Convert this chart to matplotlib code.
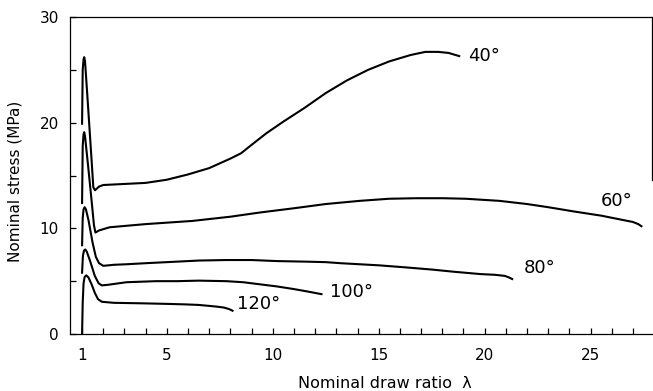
import matplotlib
matplotlib.use("Agg")
import matplotlib.pyplot as plt
from matplotlib.ticker import MultipleLocator


# draw ratio / nominal stress (MPa)
lam40 = [1.0, 1.03, 1.07, 1.1, 1.14, 1.3, 1.45, 1.53, 1.61, 1.8, 2.0, 3.0, 4.0,
         5.0, 6.0, 7.0, 8.0, 8.5, 9.0, 9.7, 10.5, 11.5, 12.5, 13.5, 14.5, 15.5,
         16.5, 17.2, 17.8, 18.3, 18.8]
s40 = [19.9, 25.0, 26.0, 26.2, 25.8, 21.0, 16.4, 13.9, 13.6, 13.95, 14.1, 14.2,
       14.3, 14.6, 15.1, 15.7, 16.6, 17.1, 17.9, 19.0, 20.1, 21.4, 22.8, 24.0,
       25.0, 25.8, 26.4, 26.7, 26.7, 26.6, 26.3]

lam60 = [1.0, 1.03, 1.07, 1.1, 1.14, 1.3, 1.45, 1.56, 1.63, 1.8, 2.3, 4.0, 6.2,
         8.0, 9.4, 11.0, 12.5, 14.1, 15.5, 16.8, 18.0, 19.1, 20.7, 22.0, 23.0,
         24.2, 25.5, 26.5, 27.0, 27.25, 27.4]
s60 = [12.4, 17.8, 18.9, 19.1, 18.7, 15.6, 12.6, 10.3, 9.6, 9.8, 10.1, 10.4,
       10.7, 11.1, 11.5, 11.9, 12.3, 12.6, 12.8, 12.85, 12.85, 12.8, 12.6, 12.3,
       12.0, 11.6, 11.2, 10.8, 10.6, 10.4, 10.2]

lam80 = [1.0, 1.03, 1.07, 1.12, 1.18, 1.3, 1.5, 1.65, 1.8, 2.0, 2.5, 3.1, 4.0,
         5.5, 6.5, 7.8, 9.0, 10.2, 11.5, 12.5, 13.2, 14.1, 15.0, 16.3, 17.5,
         18.5, 19.8, 20.5, 20.95, 21.15, 21.3]
s80 = [8.4, 11.0, 11.8, 12.0, 11.8, 10.8, 8.6, 7.3, 6.7, 6.45, 6.55, 6.6, 6.7,
       6.85, 6.95, 7.0, 7.0, 6.9, 6.85, 6.8, 6.7, 6.6, 6.5, 6.3, 6.1, 5.9, 5.67,
       5.6, 5.5, 5.35, 5.2]

lam100 = [1.0, 1.04, 1.09, 1.15, 1.22, 1.38, 1.6, 1.78, 1.93, 2.2, 3.1, 4.5,
          5.5, 6.5, 7.8, 8.6, 9.4, 10.2, 11.0, 11.7, 12.3]
s100 = [5.8, 7.4, 7.9, 8.0, 7.8, 6.9, 5.5, 4.8, 4.6, 4.65, 4.9, 5.0, 5.0,
        5.05, 5.0, 4.9, 4.7, 4.5, 4.25, 4.0, 3.77]

lam120 = [1.0, 1.03, 1.07, 1.12, 1.2, 1.3, 1.45, 1.6, 1.75, 1.93, 2.5, 3.9, 5.0,
          5.9, 6.5, 7.0, 7.4, 7.7, 7.95, 8.1]
s120 = [0.0, 3.0, 4.8, 5.4, 5.55, 5.35, 4.7, 3.9, 3.3, 3.05, 2.95, 2.9, 2.85,
        2.8, 2.75, 2.66, 2.58, 2.5, 2.35, 2.2]

labels = ['40°', '60°', '80°', '100°', '120°']
xticks = [1, 5, 10, 15, 20, 25]
yticks = [0, 10, 20, 30]


def main():
    plt.rcParams['font.family'] = ['DejaVu Sans']
    fig = plt.figure(figsize=(6.53, 3.91), dpi=100)
    ax = fig.add_axes([0.1072, 0.1458, 0.8913, 0.8107])

    curves = [(lam40, s40), (lam60, s60), (lam80, s80), (lam100, s100),
              (lam120, s120)]
    for lam, s in curves:
        ax.plot(lam, s, 'k', lw=1.5, solid_joinstyle='round')

    # curve labels
    pos = [(19.23, 26.3), (25.47, 12.6), (21.83, 6.24), (12.7, 4.0), (8.3, 2.84)]
    for txt, (x, y) in zip(labels, pos):
        ax.text(x, y, txt, fontsize=13, ha='left', va='center')

    ax.set_xlim(0.43, 27.9)
    ax.set_ylim(0, 30)
    ax.set_xticks(xticks)
    ax.set_yticks(yticks)
    ax.xaxis.set_minor_locator(MultipleLocator(1))
    ax.yaxis.set_minor_locator(MultipleLocator(5))
    ax.tick_params(which='both', direction='in', length=4, width=0.9)
    ax.tick_params(axis='x', labelsize=11, pad=10)
    ax.tick_params(axis='y', labelsize=11, pad=8)
    ax.tick_params(top=False, right=False, which='both')

    for sp in ax.spines.values():
        sp.set_linewidth(0.9)
    ax.spines['right'].set_bounds(14.6, 30)

    ax.set_xlabel("Nominal draw ratio  λ", fontsize=11.5)
    ax.xaxis.set_label_coords(0.541, -0.155)
    ax.xaxis.label.set_va('center')
    ax.set_ylabel("Nominal stress (MPa)", fontsize=11)
    ax.yaxis.set_label_coords(-0.095, 0.48)
    ax.yaxis.label.set_va('center')

    fig.savefig("out.png", dpi=100)


if __name__ == '__main__':
    main()
